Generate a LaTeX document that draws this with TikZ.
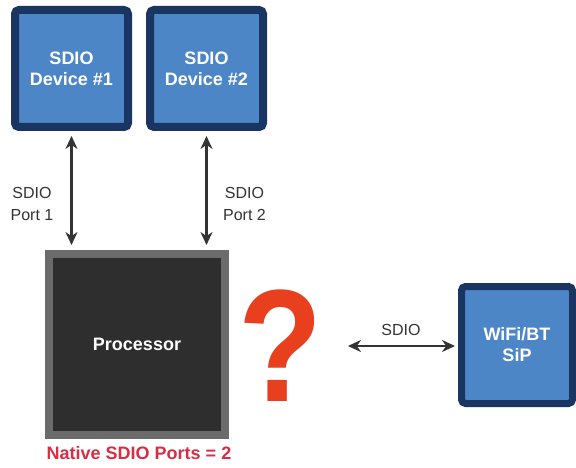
\documentclass[tikz,border=0pt]{standalone}
\usepackage{fontspec}
\setmainfont{Liberation Sans}
\usetikzlibrary{arrows.meta}
\definecolor{navy}{HTML}{1B3563}
\definecolor{lblue}{HTML}{4D86C6}
\definecolor{procfill}{HTML}{2E2E2E}
\definecolor{procedge}{HTML}{6B6B6B}
\definecolor{qred}{HTML}{E8401F}
\definecolor{lred}{HTML}{D62E45}
\definecolor{arr}{HTML}{333333}
\tikzset{
  devbox/.style={draw=navy, fill=lblue, line width=8pt, rounded corners=4pt,
    minimum width=113pt, minimum height=117pt, inner sep=0pt, align=center,
    text=white, font=\fontsize{18}{21}\selectfont\bfseries},
  procbox/.style={draw=procedge, fill=procfill, line width=8pt,
    minimum width=176pt, minimum height=181pt, inner sep=0pt,
    text=white, font=\fontsize{18}{21}\selectfont\bfseries},
  lbl/.style={align=center, text=arr, font=\fontsize{16}{22}\selectfont, inner sep=0pt},
  conn/.style={draw=arr, line width=2.4pt, {Stealth[length=13pt,width=12pt]}-{Stealth[length=13pt,width=12pt]}},
}
\begin{document}
\begin{tikzpicture}[x=1pt,y=-1pt]
\useasboundingbox (0,0) rectangle (576,468);
\fill[white] (0,0) rectangle (576,468);
\node[devbox] (dev1) at (71.5,68.5) {SDIO\\Device \#1};
\node[devbox] (dev2) at (206.5,68.5) {SDIO\\Device \#2};
\node[procbox] (proc) at (137,344.5) {Processor};
\node[devbox, line width=7pt, minimum width=111pt, minimum height=117pt] (wifi) at (517,345) {WiFi/BT\\SiP};
\draw[conn, shorten <=5pt, shorten >=5pt] (dev1.south) -- (dev1.south |- proc.north);
\draw[conn, shorten <=5pt, shorten >=5pt] (dev2.south) -- (dev2.south |- proc.north);
\coordinate (qleft) at (348,346);
\draw[conn, shorten >=3pt] (qleft) -- (wifi.west |- qleft);
\node[lbl] (p1) at (32,204) {SDIO\\Port 1};
\node[lbl] (p2) at (244.5,204) {SDIO\\Port 2};
\node[lbl] (sdio) at (401,330) {SDIO};
\node[text=qred, inner sep=0pt, xscale=0.86, font=\fontsize{160}{160}\selectfont\bfseries] (q) at (281,346) {?};
\node[text=lred, inner sep=0pt, font=\fontsize{18}{21}\selectfont\bfseries] (nat) at (139,453) {Native SDIO Ports = 2};
\end{tikzpicture}
\end{document}
